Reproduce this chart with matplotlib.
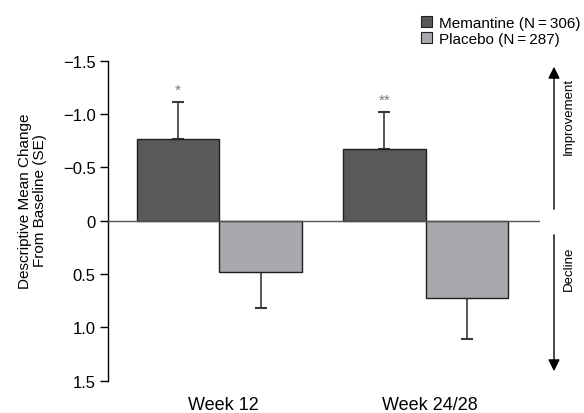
import numpy as np
import matplotlib.pyplot as plt
from matplotlib.patches import Patch, FancyArrowPatch
from matplotlib.transforms import ScaledTranslation

plt.rcParams['font.family'] = ['Liberation Sans', 'DejaVu Sans']

categories = ['Week 12', 'Week 24/28']
memantine = [-0.77, -0.67]
memantine_se = [0.34, 0.35]
placebo = [0.48, 0.72]
placebo_se = [0.34, 0.39]
stars = ['*', '**']
series_labels = ['Memantine (N\u2009=\u2009306)', 'Placebo (N\u2009=\u2009287)']
ytick_vals = [-1.5, -1.0, -0.5, 0, 0.5, 1.0, 1.5]
ytick_text = ['\u22121.5', '\u22121.0', '\u22120.5', '0', '0.5', '1.0', '1.5']

dark = '#58595b'
light = '#a7a9ac'
edge = '#231f20'

fig = plt.figure(figsize=(5.84, 4.14), dpi=100)
ax = fig.add_axes([0.1854, 0.078, 0.7393, 0.773])

x = np.arange(len(categories))
w = 0.4
ax.bar(x - w / 2, memantine, w, color=dark, edgecolor=edge, linewidth=1.0, zorder=2)
ax.bar(x + w / 2, placebo, w, color=light, edgecolor=edge, linewidth=1.0, zorder=2)

zeros = [0] * len(categories)
ax.errorbar(x - w / 2, memantine, yerr=[memantine_se, zeros], fmt='none',
            ecolor='#3a3a3a', elinewidth=1.2, capsize=4, capthick=1.5, zorder=1)
ax.errorbar(x + w / 2, placebo, yerr=[zeros, placebo_se], fmt='none',
            ecolor='#3a3a3a', elinewidth=1.2, capsize=4, capthick=1.5, zorder=1)

for i, s in enumerate(stars):
    ax.text(x[i] - w / 2, memantine[i] - memantine_se[i] - 0.05, s,
            ha='center', va='bottom', fontsize=11, color='#777777')

ax.axhline(0, color='#555555', linewidth=1.0, zorder=3)

ax.set_xlim(-0.538, 1.554)
ax.set_ylim(1.5, -1.5)
ax.set_yticks(ytick_vals)
ax.set_yticklabels(ytick_text, fontsize=12)
ax.set_xticks(x)
ax.set_xticklabels(categories, fontsize=13)
ax.tick_params(axis='x', length=0, pad=11)
ax.tick_params(axis='y', direction='out', length=6, width=1, pad=3)
for lbl in ax.get_xticklabels():
    lbl.set_transform(lbl.get_transform() + ScaledTranslation(4 / 100, 0, fig.dpi_scale_trans))
for s in ['top', 'right', 'bottom']:
    ax.spines[s].set_visible(False)
ax.spines['left'].set_linewidth(1.0)

ax.set_ylabel('Descriptive Mean Change\nFrom Baseline (SE)', fontsize=11,
              linespacing=1.05)
ax.yaxis.set_label_coords(-0.143, 0.565)

handles = [Patch(facecolor=dark, edgecolor=edge, linewidth=0.8),
           Patch(facecolor=light, edgecolor=edge, linewidth=0.8)]
fig.legend(handles, series_labels, loc='upper left',
           bbox_to_anchor=(0.703, 0.985), frameon=False, fontsize=11,
           handlelength=0.7, handleheight=0.7, handletextpad=0.45,
           labelspacing=0.12, borderpad=0.2)

# direction arrows on the right
ax_x = 554 / 584
fig.add_artist(FancyArrowPatch(
    (ax_x, 1 - 213 / 414), (ax_x, 1 - 65 / 414), transform=fig.transFigure,
    arrowstyle='-|>,head_length=7,head_width=3.5', color='black', lw=1.0))
fig.add_artist(FancyArrowPatch(
    (ax_x, 1 - 233 / 414), (ax_x, 1 - 375 / 414), transform=fig.transFigure,
    arrowstyle='-|>,head_length=7,head_width=3.5', color='black', lw=1.0))
fig.text(569 / 584, 1 - 116 / 414, 'Improvement', rotation=90,
         ha='center', va='center', fontsize=9.5)
fig.text(569 / 584, 1 - 269 / 414, 'Decline', rotation=90,
         ha='center', va='center', fontsize=9.5)

fig.savefig('out.png', dpi=100)
